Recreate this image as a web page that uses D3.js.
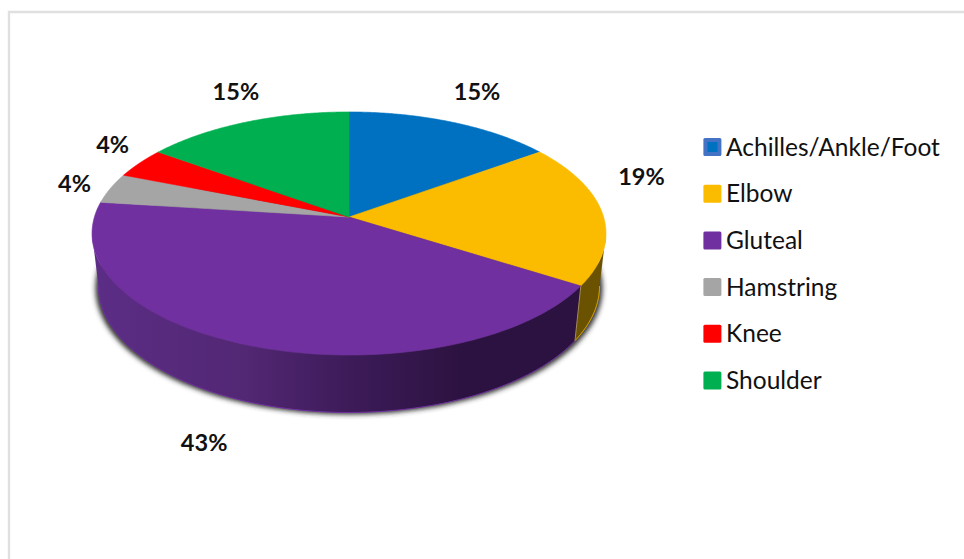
<!DOCTYPE html>
<html>
<head>
<meta charset="utf-8">
<script src="https://cdn.jsdelivr.net/npm/d3@7"></script>
<style>
  html, body { margin: 0; padding: 0; background: #fff; }
  svg { display: block; }
  text { font-family: Lato, "Open Sans", sans-serif; fill: #111; }
</style>
</head>
<body>
<svg id="chart" width="964" height="559"></svg>
<script>
// Injury share by body region
const categories = ["Achilles/Ankle/Foot", "Elbow", "Gluteal", "Hamstring", "Knee", "Shoulder"];
const shares = [15, 19, 43, 4, 4, 15];
const sliceColors = ["#0070c0", "#fbbc00", "#7030a0", "#a5a5a5", "#ff0000", "#00b050"];
const wallColors = ["#003a66", "#6b5200", "#3a1a55", "#555555", "#880000", "#005c2a"];

const svg = d3.select("#chart");
const W = 964, H = 559;

// Disc geometry: a circle seen through a perspective tilt
const tilt = 0.1357;
const topDisc = { cx: 349, cy: 217, rx: 254.6, ry: 119.3 };
const baseDisc = { cx: 349, cy: 269, rx: 248.2, ry: 124 };

const project = (disc, a) => {
  const d = 1 + tilt * Math.cos(a);
  return [disc.cx + disc.rx * Math.sin(a) / d, disc.cy - disc.ry * Math.cos(a) / d];
};
const rimPoints = (disc, a0, a1) => d3.range(0, 121).map(i => project(disc, a0 + (a1 - a0) * i / 120));
const line = d3.line();

const pie = d3.pie().sort(null).value(d => d)(shares);

// Chart frame: only the top and left edges are visible
svg.append("path")
  .attr("d", `M9,${H} V12 H${W}`)
  .attr("fill", "none").attr("stroke", "#e0e0e0").attr("stroke-width", 2.4);

const defs = svg.append("defs");
defs.append("filter").attr("id", "soft").attr("x", "-10%").attr("y", "-10%").attr("width", "120%").attr("height", "120%")
  .append("feGaussianBlur").attr("stdDeviation", 2.4);
const grad = defs.append("linearGradient").attr("id", "wallShade")
  .attr("gradientUnits", "userSpaceOnUse").attr("x1", 92).attr("x2", 606).attr("y1", 0).attr("y2", 0);
[[0, "#5c2d86"], [0.3, "#522773"], [0.5, "#3d1b59"], [0.72, "#2c1240"], [1, "#2c1240"]]
  .forEach(([o, c]) => grad.append("stop").attr("offset", o).attr("stop-color", c));

// Soft shadow under the base
svg.append("path")
  .attr("d", line(rimPoints({ ...baseDisc, cy: baseDisc.cy + 2, rx: baseDisc.rx + 3 }, 0, 2 * Math.PI)) + "Z")
  .attr("fill", "#333").attr("filter", "url(#soft)");

// Side walls, limited to the part of the rim facing the viewer
const silhouette = Math.acos(-tilt);
const walls = pie.map((s, i) => ({
  i,
  a0: Math.max(s.startAngle, silhouette),
  a1: Math.min(s.endAngle, 2 * Math.PI - silhouette)
})).filter(w => w.a1 > w.a0);

svg.append("g").selectAll("path").data(walls).join("path")
  .attr("d", w => line([...rimPoints(topDisc, w.a0, w.a1), ...rimPoints(baseDisc, w.a1, w.a0)]) + "Z")
  .attr("fill", w => w.i === 2 ? "url(#wallShade)" : wallColors[w.i]);

// Thin bright edge along the lower rim
svg.append("g").selectAll("path").data(walls).join("path")
  .attr("d", w => line(rimPoints(baseDisc, w.a0, w.a1)))
  .attr("fill", "none").attr("stroke", w => sliceColors[w.i]).attr("stroke-width", 1);

// Seam between the yellow and purple walls
svg.append("path")
  .attr("d", line([project(topDisc, pie[1].endAngle), project(baseDisc, pie[1].endAngle)]))
  .attr("stroke", "#a58a5a").attr("stroke-width", 1).attr("fill", "none");

// Top face
svg.append("g").selectAll("path").data(pie).join("path")
  .attr("d", s => line([[topDisc.cx, topDisc.cy], ...rimPoints(topDisc, s.startAngle, s.endAngle)]) + "Z")
  .attr("fill", (s, i) => sliceColors[i])
  .attr("stroke", (s, i) => sliceColors[i]).attr("stroke-width", 0.6);

// Percentage labels, nudged outward from each slice's rim midpoint
const labelNudge = [[25, -31], [39, -37], [-46, 96], [-36, -5], [-27, -19], [-10, -31]];
svg.append("g").selectAll("text").data(pie).join("text")
  .attr("transform", (s, i) => {
    const [x, y] = project(topDisc, (s.startAngle + s.endAngle) / 2);
    return `translate(${x + labelNudge[i][0]},${y + labelNudge[i][1]})`;
  })
  .attr("text-anchor", "middle").attr("dominant-baseline", "central")
  .attr("font-size", 23.5).attr("font-weight", 700)
  .text(s => s.data + "%");

// Legend
const rowY = d3.scalePoint().domain(categories).range([147, 380.5]);
const legend = svg.append("g").selectAll("g").data(categories).join("g")
  .attr("transform", d => `translate(703,${rowY(d)})`);
legend.append("rect")
  .attr("x", 0.4).attr("y", -9).attr("width", 18).attr("height", 18).attr("rx", 1.5)
  .attr("fill", (d, i) => i === 0 ? "#4472c4" : sliceColors[i]);
legend.filter((d, i) => i === 0).append("rect")
  .attr("x", 4.5).attr("y", -5).attr("width", 10).attr("height", 10)
  .attr("fill", sliceColors[0]);
legend.append("text")
  .attr("x", 23).attr("y", -1).attr("dominant-baseline", "central")
  .attr("font-size", 24.5)
  .text(d => d);
</script>
</body>
</html>
